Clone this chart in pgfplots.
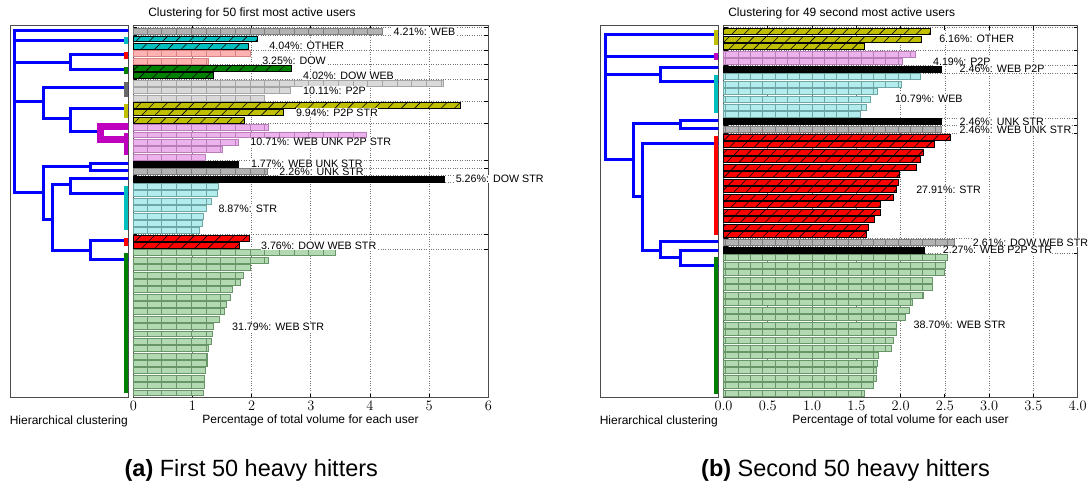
\documentclass[border=0pt]{standalone}
\usepackage{fontspec}
\setmainfont{Liberation Sans}
\usepackage{pgfplots}
\pgfplotsset{compat=1.18}
\usetikzlibrary{patterns.meta}

\definecolor{cC}{RGB}{0,191,191}
\definecolor{gC}{RGB}{0,128,0}
\definecolor{rC}{RGB}{255,0,0}
\definecolor{mC}{RGB}{191,0,191}
\definecolor{yC}{RGB}{191,191,0}
\definecolor{bC}{RGB}{0,0,255}
\definecolor{grayA}{RGB}{178,178,178}
\definecolor{grayAe}{RGB}{125,125,125}
\definecolor{grayB}{RGB}{217,217,217}
\definecolor{grayBe}{RGB}{165,165,165}
\definecolor{pinkL}{RGB}{255,178,178}
\definecolor{pinkE}{RGB}{215,130,130}
\definecolor{violL}{RGB}{236,178,236}
\definecolor{violE}{RGB}{185,125,185}
\definecolor{cyanL}{RGB}{178,236,236}
\definecolor{cyanE}{RGB}{110,165,165}
\definecolor{greenL}{RGB}{178,217,178}
\definecolor{greenE}{RGB}{105,150,105}
\definecolor{markgray}{RGB}{105,105,105}

\newcommand\hv{14.7pt}
\newcommand\hd{9.4pt}

\tikzset{lab/.style={font=\fontsize{10.7}{12}\selectfont, fill=white, inner sep=0.4pt, anchor=west}}

\pgfplotsset{
 hb/.style={xbar, bar width=0.8, bar shift=0pt},
 lt/.style 2 args={hb, fill=#1, draw=#2, line width=0.6pt, postaction={pattern={Lines[angle=90,distance=\hv,line width=0.5pt]}, pattern color=#2}},
 dk/.style={hb, fill=#1, draw=black, line width=0.8pt, postaction={pattern={Lines[angle=45,distance=\hd,line width=0.6pt]}, pattern color=black}},
 bk/.style={hb, fill=black, draw=black, line width=0.8pt},
 barax/.style={scale only axis, height=372pt, anchor=south west, clip=false,
   xmajorgrids, ymajorgrids, grid style={dotted, black!55, line width=0.7pt}, yticklabels={},
   major tick length=4pt, tick style={black, line width=0.8pt}, axis line style={black!70, line width=0.8pt},
   xticklabel style={font=\fontsize{13.5}{15}\selectfont}},
 dendax/.style={scale only axis, width=118.3pt, height=372pt, anchor=south west, xtick=\empty, ytick=\empty,
   ymin=-397.7, ymax=-25.7, axis line style={black!70, line width=0.8pt}},
 dl/.style={bC, line width=3pt, line cap=rect, line join=miter},
 mk/.style={line width=4.3pt, line cap=butt},
}

\begin{document}
\begin{tikzpicture}
\path[use as bounding box] (0,0) rectangle (1092pt,483pt);

% ---------------- Panel (a): dendrogram ----------------
\begin{axis}[dendax, at={(10pt,85.3pt)}, xmin=10, xmax=128.3]
\addplot[dl] coordinates {(128,-30.7) (15,-30.7) (15,-192.7) (43.3,-192.7)};
\addplot[dl] coordinates {(15,-40.7) (129,-40.7)};
\addplot[dl] coordinates {(15,-62.3) (70.7,-62.3)};
\addplot[dl] coordinates {(129,-55) (70.7,-55) (70.7,-70) (129,-70)};
\addplot[dl] coordinates {(15,-101.7) (43.3,-101.7)};
\addplot[dl] coordinates {(129,-87.3) (43.3,-87.3) (43.3,-118.3) (70.7,-118.3)};
\addplot[dl] coordinates {(129,-108.3) (70.7,-108.3) (70.7,-131.7) (100,-131.7)};
\addplot[mC, line width=7pt, line join=miter] coordinates {(129,-126.7) (100,-126.7) (100,-140) (129,-140)};
\addplot[dl] coordinates {(129,-163.3) (90,-163.3) (90,-170.7) (129,-170.7)};
\addplot[dl] coordinates {(90,-166.7) (43.3,-166.7) (43.3,-219) (52.3,-219)};
\addplot[dl] coordinates {(129,-178.3) (70.7,-178.3) (70.7,-193.3) (129,-193.3)};
\addplot[dl] coordinates {(70.7,-184.3) (52.3,-184.3) (52.3,-250) (90,-250)};
\addplot[dl] coordinates {(129,-240.7) (90,-240.7) (90,-259.3) (129,-259.3)};
% cluster markers
\addplot[mk, cC] coordinates {(126.2,-37.3) (126.2,-44)};
\addplot[mk, rC] coordinates {(126.2,-51.7) (126.2,-59.3)};
\addplot[mk, gC] coordinates {(126.2,-66.7) (126.2,-74)};
\addplot[mk, markgray] coordinates {(126.2,-81.7) (126.2,-96.7)};
\addplot[mk, yC] coordinates {(126.2,-104) (126.2,-118.3)};
\addplot[mk, mC] coordinates {(126.2,-133.3) (126.2,-155)};
\addplot[mk, cC] coordinates {(126.2,-186) (126.2,-230)};
\addplot[mk, rC] coordinates {(126.2,-237.7) (126.2,-245.7)};
\addplot[mk, gC] coordinates {(126.2,-252.7) (126.2,-393)};
\end{axis}

% ---------------- Panel (a): bars ----------------
\begin{axis}[barax, at={(133.3pt,85.3pt)}, width=355pt,
  xmin=0, xmax=6, ymin=-50.66, ymax=-0.21, xtick={0,1,2,3,4,5,6},
  ytick={-0.5,-1.5,-3.5,-5.5,-7.5,-10.5,-13.5,-18.5,-19.5,-20.5,-21.5,-28.5,-30.5}]
\addplot[lt={grayA}{grayAe}] coordinates {(4.21,-1)};
\addplot[dk=cC] coordinates {(2.10,-2) (1.94,-3)};
\addplot[lt={pinkL}{pinkE}] coordinates {(1.98,-4) (1.27,-5)};
\addplot[dk=gC] coordinates {(2.67,-6) (1.35,-7)};
\addplot[lt={grayB}{grayBe}] coordinates {(5.24,-8) (2.65,-9) (2.22,-10)};
\addplot[dk=yC] coordinates {(5.53,-11) (2.54,-12) (1.87,-13)};
\addplot[lt={violL}{violE}] coordinates {(2.29,-14) (3.93,-15) (1.77,-16) (1.51,-17) (1.21,-18)};
\addplot[bk] coordinates {(1.77,-19)};
\addplot[lt={grayA}{grayAe}] coordinates {(2.26,-20)};
\addplot[bk] coordinates {(5.25,-21)};
\addplot[lt={cyanL}{cyanE}] coordinates {(1.43,-22) (1.42,-23) (1.31,-24) (1.23,-25) (1.19,-26) (1.17,-27) (1.12,-28)};
\addplot[dk=rC] coordinates {(1.96,-29) (1.80,-30)};
\addplot[lt={greenL}{greenE}] coordinates {(3.41,-31) (2.29,-32) (1.97,-33) (1.86,-34) (1.80,-35) (1.67,-36) (1.64,-37) (1.58,-38) (1.53,-39) (1.45,-40) (1.36,-41) (1.33,-42) (1.31,-43) (1.27,-44) (1.25,-45) (1.25,-46) (1.21,-47) (1.20,-48) (1.20,-49) (1.18,-50)};
\node[lab] at (axis cs:4.39,-1) {4.21\%: WEB};
\node[lab] at (axis cs:2.29,-3) {4.04\%: OTHER};
\node[lab] at (axis cs:2.17,-5) {3.25\%: DOW};
\node[lab] at (axis cs:2.86,-7) {4.02\%: DOW WEB};
\node[lab] at (axis cs:2.86,-9) {10.11\%: P2P};
\node[lab] at (axis cs:2.74,-12) {9.94\%: P2P STR};
\node[lab] at (axis cs:1.97,-16) {10.71\%: WEB UNK P2P STR};
\node[lab] at (axis cs:1.98,-19) {1.77\%: WEB UNK STR};
\node[lab] at (axis cs:2.46,-20) {2.26\%: UNK STR};
\node[lab] at (axis cs:5.44,-21) {5.26\%: DOW STR};
\node[lab] at (axis cs:1.43,-25) {8.87\%: STR};
\node[lab] at (axis cs:2.15,-30) {3.76\%: DOW WEB STR};
\node[lab] at (axis cs:1.66,-41) {31.79\%: WEB STR};
\end{axis}

\renewcommand\hv{12.3pt}
\renewcommand\hd{8.7pt}
% ---------------- Panel (b): dendrogram ----------------
\begin{axis}[dendax, at={(600pt,85.3pt)}, xmin=600, xmax=718.3]
\addplot[dl] coordinates {(719,-35) (605,-35) (605,-160) (633.3,-160)};
\addplot[dl] coordinates {(605,-56.7) (719,-56.7)};
\addplot[dl] coordinates {(605,-75) (660.7,-75)};
\addplot[dl] coordinates {(719,-67.7) (660.7,-67.7) (660.7,-81.7) (719,-81.7)};
\addplot[dl] coordinates {(719,-120.7) (680,-120.7) (680,-128.3) (719,-128.3)};
\addplot[dl] coordinates {(680,-124) (633.3,-124) (633.3,-196.7) (642.3,-196.7)};
\addplot[dl] coordinates {(719,-143.3) (642.3,-143.3) (642.3,-250) (660.7,-250)};
\addplot[dl] coordinates {(719,-241.7) (660.7,-241.7) (660.7,-257.7) (680,-257.7)};
\addplot[dl] coordinates {(719,-250) (680,-250) (680,-265) (719,-265)};
\addplot[mk, yC] coordinates {(716.2,-30) (716.2,-45)};
\addplot[mk, mC] coordinates {(716.2,-52.7) (716.2,-60)};
\addplot[mk, cC] coordinates {(716.2,-75) (716.2,-113.3)};
\addplot[mk, rC] coordinates {(716.2,-136) (716.2,-235)};
\addplot[mk, gC] coordinates {(716.2,-257.3) (716.2,-394)};
\end{axis}

% ---------------- Panel (b): bars ----------------
\begin{axis}[barax, at={(723.5pt,85.3pt)}, width=354.2pt,
  xmin=0, xmax=4, ymin=-49.62, ymax=-0.23, xtick={0,0.5,...,4},
  xticklabel style={/pgf/number format/.cd, fixed, fixed zerofill, precision=1},
  ytick={-0.5,-3.5,-5.5,-6.5,-12.5,-13.5,-14.5,-28.5,-29.5,-30.5}]
\addplot[dk=yC] coordinates {(2.34,-1) (2.24,-2) (1.59,-3)};
\addplot[lt={violL}{violE}] coordinates {(2.17,-4) (2.02,-5)};
\addplot[bk] coordinates {(2.46,-6)};
\addplot[lt={cyanL}{cyanE}] coordinates {(2.22,-7) (2.01,-8) (1.74,-9) (1.66,-10) (1.61,-11) (1.55,-12)};
\addplot[bk] coordinates {(2.46,-13)};
\addplot[lt={grayA}{grayAe}] coordinates {(2.46,-14)};
\addplot[dk=rC] coordinates {(2.56,-15) (2.38,-16) (2.26,-17) (2.22,-18) (2.18,-19) (1.99,-20) (1.98,-21) (1.95,-22) (1.92,-23) (1.77,-24) (1.77,-25) (1.70,-26) (1.64,-27) (1.61,-28)};
\addplot[lt={grayA}{grayAe}] coordinates {(2.61,-29)};
\addplot[bk] coordinates {(2.27,-30)};
\addplot[lt={greenL}{greenE}] coordinates {(2.53,-31) (2.51,-32) (2.49,-33) (2.36,-34) (2.36,-35) (2.26,-36) (2.13,-37) (2.10,-38) (2.05,-39) (1.95,-40) (1.95,-41) (1.92,-42) (1.90,-43) (1.75,-44) (1.74,-45) (1.72,-46) (1.72,-47) (1.69,-48) (1.59,-49)};
\node[lab] at (axis cs:2.43,-2) {6.16\%: OTHER};
\node[lab] at (axis cs:2.36,-5) {4.19\%: P2P};
\node[lab] at (axis cs:2.66,-6) {2.46\%: WEB P2P};
\node[lab] at (axis cs:1.93,-10) {10.79\%: WEB};
\node[lab] at (axis cs:2.66,-13) {2.46\%: UNK STR};
\node[lab] at (axis cs:2.66,-14) {2.46\%: WEB UNK STR};
\node[lab] at (axis cs:2.17,-22) {27.91\%: STR};
\node[lab] at (axis cs:2.81,-29) {2.61\%: DOW WEB STR};
\node[lab] at (axis cs:2.47,-30) {2.27\%: WEB P2P STR};
\node[lab] at (axis cs:2.14,-40) {38.70\%: WEB STR};
\end{axis}

% ---------------- Texts ----------------
\begin{scope}[every node/.style={font=\fontsize{12}{14}\selectfont, inner sep=0pt}]
\node at (252pt,469.7pt) {Clustering for 50 first most active users};
\node at (841.7pt,469.7pt) {Clustering for 49 second most active users};
\node at (68.8pt,61.3pt) {Hierarchical clustering};
\node at (658.8pt,61.3pt) {Hierarchical clustering};
\node at (310.5pt,62.3pt) {Percentage of total volume for each user};
\node at (900.5pt,62.3pt) {Percentage of total volume for each user};
\end{scope}
\node[font=\fontsize{23.5}{27}\selectfont, inner sep=0pt, anchor=base] at (251.3pt,6.5pt) {\textbf{(a)} First 50 heavy hitters};
\node[font=\fontsize{23.5}{27}\selectfont, inner sep=0pt, anchor=base] at (845.5pt,6.5pt) {\textbf{(b)} Second 50 heavy hitters};
\end{tikzpicture}
\end{document}
